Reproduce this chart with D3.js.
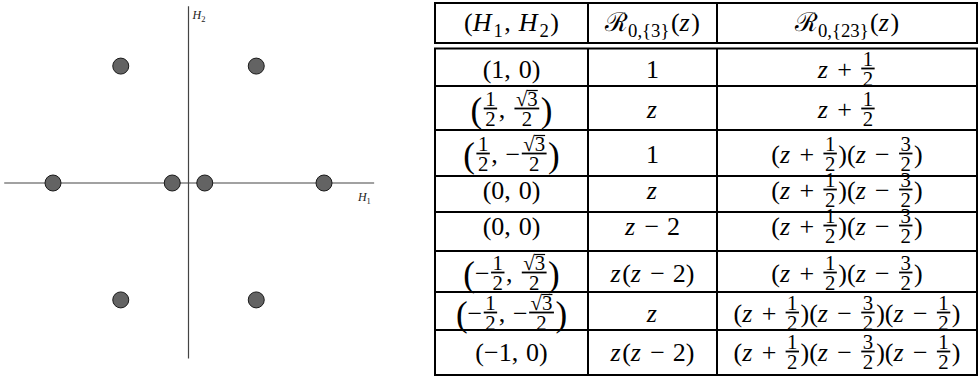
<!DOCTYPE html>
<html><head><meta charset="utf-8">
<script src="https://cdn.jsdelivr.net/npm/d3@7"></script>
<style>body{margin:0;background:#fff}svg{display:block}</style>
</head><body>
<svg id="c" width="978" height="378"></svg>
<script>
// ---- data ----
const h1Values = [1, 0.5, 0.5, 0.12, -0.12, -0.5, -0.5, -1];
const h2Values = [0, 0.866, -0.866, 0, 0, 0.866, -0.866, 0];
const headers = ["(H_<1>, H_<2>)", "ℛ_<0,{3}>(z)", "ℛ_<0,{23}>(z)"];
const colPairs = ["(1, 0)", "([1/2], [√3/2])", "([1/2], −[√3/2])", "(0, 0)", "(0, 0)", "(−[1/2], [√3/2])", "(−[1/2], −[√3/2])", "(−1, 0)"];
const colR3 = ["1", "z", "1", "z", "z − 2", "z(z − 2)", "z", "z(z − 2)"];
const colR23 = ["z + [1/2]", "z + [1/2]", "(z + [1/2])(z − [3/2])", "(z + [1/2])(z − [3/2])", "(z + [1/2])(z − [3/2])", "(z + [1/2])(z − [3/2])", "(z + [1/2])(z − [3/2])(z − [1/2])", "(z + [1/2])(z − [3/2])(z − [1/2])"];

const svg = d3.select("#c");
const FONT = "Liberation Serif";

// ---- scatter ----
const x = d3.scaleLinear().domain([-1, 1]).range([53, 324]);
const y = d3.scaleLinear().domain([-1, 1]).range([318, 48]);
const plot = svg.append("g");
plot.append("line").attr("x1", x(-1.36)).attr("x2", x(1.37)).attr("y1", y(0)).attr("y2", y(0))
  .attr("stroke", "#444").attr("stroke-width", 1.2);
plot.append("line").attr("x1", x(0)).attr("x2", x(0)).attr("y1", y(1.31)).attr("y2", y(-1.3))
  .attr("stroke", "#444").attr("stroke-width", 1.2);
plot.selectAll("circle").data(d3.range(h1Values.length)).join("circle")
  .attr("cx", i => x(h1Values[i])).attr("cy", i => y(h2Values[i])).attr("r", 8)
  .attr("fill", "#636363").attr("stroke", "#1a1a1a").attr("stroke-width", 1);
function axLabel(px, py, sub) {
  const t = plot.append("text").attr("x", px).attr("y", py).style("font-family", FONT)
    .attr("font-size", 12).attr("fill", "#222");
  t.append("tspan").style("font-style", "italic").text("H");
  t.append("tspan").attr("font-size", 8.5).attr("dy", 2.5).text(sub);
}
axLabel(x(0) + 4, 19, "2");
axLabel(x(1.25), 201, "1");

// ---- math renderer ----
function parse(s) {
  const toks = []; let i = 0, buf = "", bufIt = null;
  const flush = () => { if (buf) toks.push({type: "t", s: buf, it: bufIt}); buf = ""; bufIt = null; };
  const big = s.includes("√");
  while (i < s.length) {
    const c = s[i];
    if (c === "[") { flush(); const j = s.indexOf("]", i); const p = s.slice(i + 1, j).split("/");
      toks.push({type: "f", num: p[0], den: p[1]}); i = j + 1; continue; }
    if (c === "_" && s[i + 1] === "<") { flush(); const j = s.indexOf(">", i);
      toks.push({type: "s", s: s.slice(i + 2, j)}); i = j + 1; continue; }
    if (c === " ") { flush(); toks.push({type: "sp"}); i++; continue; }
    if (big && (i === 0 || i === s.length - 1)) { flush(); toks.push({type: "b", s: c}); i++; continue; }
    const it = /[zH]/.test(c);
    if (bufIt !== null && bufIt !== it) flush();
    buf += c; bufIt = it; i++;
  }
  flush(); return toks;
}
function mk(g, s, size, it) {
  return g.append("text").style("font-family", FONT).attr("font-size", size)
    .style("font-style", it ? "italic" : "normal").attr("fill", "#000").text(s);
}
function txt(g, s, px, py, size, it) {
  const t = mk(g, s, size, it).attr("x", px).attr("y", py);
  return t.node().getComputedTextLength();
}
function render(cx, base, s, size) {
  const g = svg.append("g");
  let cur = 0;
  const fs = size * 0.8;
  for (const tk of parse(s)) {
    if (tk.type === "t") {
      cur += txt(g, tk.s, cur, 0, size, tk.it);
      if (tk.it) cur += tk.s === "H" ? 2 : 1.5;
    } else if (tk.type === "sp") {
      cur += size * 0.3;
    } else if (tk.type === "b") {
      cur += txt(g, tk.s, cur, 3.5, size * 1.35, false);
    } else if (tk.type === "s") {
      cur += txt(g, tk.s, cur, 6, size * 0.72, false) + 1.5;
    } else {
      const gf = g.append("g");
      const sq = tk.num.startsWith("√");
      const nodeN = mk(gf, tk.num, fs, false);
      const wn = nodeN.node().getComputedTextLength();
      const nodeD = mk(gf, tk.den, fs, false);
      const wd = nodeD.node().getComputedTextLength();
      const w = Math.max(wn, wd) + 3;
      const pad = 1.5;
      cur += pad;
      const bar = -9.5;
      nodeN.attr("x", cur + (w - wn) / 2).attr("y", bar - 2.5);
      nodeD.attr("x", cur + (w - wd) / 2).attr("y", bar + 17.5);
      gf.append("line").attr("x1", cur).attr("x2", cur + w).attr("y1", bar).attr("y2", bar)
        .attr("stroke", "#000").attr("stroke-width", 1.8);
      if (sq) {
        const tmp = mk(gf, "√", fs, false);
        const ws = tmp.node().getComputedTextLength(); tmp.remove();
        gf.append("line").attr("x1", cur + (w - wn) / 2 + ws - 0.5).attr("x2", cur + (w + wn) / 2)
          .attr("y1", bar - 18).attr("y2", bar - 18).attr("stroke", "#000").attr("stroke-width", 1.2);
      }
      cur += w + pad;
    }
  }
  g.attr("transform", `translate(${cx - cur / 2},${base})`);
}

// ---- table layout ----
const colX = [435, 588, 717, 977];
const headTop = 3, headBot = 43, bodyTop = 48.5;
const rowLines = [48.5, 86, 130, 176, 212, 251, 292, 330, 375];
const baselines = [78, 118, 163, 199, 235, 282, 322, 361];
const tbl = svg.append("g").attr("stroke", "#000").attr("stroke-width", 2);
[headTop, headBot, ...rowLines].forEach(v =>
  tbl.append("line").attr("x1", colX[0] - 1).attr("x2", colX[3] + 1).attr("y1", v).attr("y2", v));
colX.forEach(cx => {
  tbl.append("line").attr("x1", cx).attr("x2", cx).attr("y1", headTop).attr("y2", headBot);
  tbl.append("line").attr("x1", cx).attr("x2", cx).attr("y1", bodyTop).attr("y2", rowLines[rowLines.length - 1]);
});
const centers = [0, 1, 2].map(k => (colX[k] + colX[k + 1]) / 2);
headers.forEach((h, k) => render(centers[k], 31, h, 26));
const cols = [colPairs, colR3, colR23];
cols.forEach((col, k) => col.forEach((s, r) => render(centers[k], baselines[r], s, 26)));
</script>
</body></html>
